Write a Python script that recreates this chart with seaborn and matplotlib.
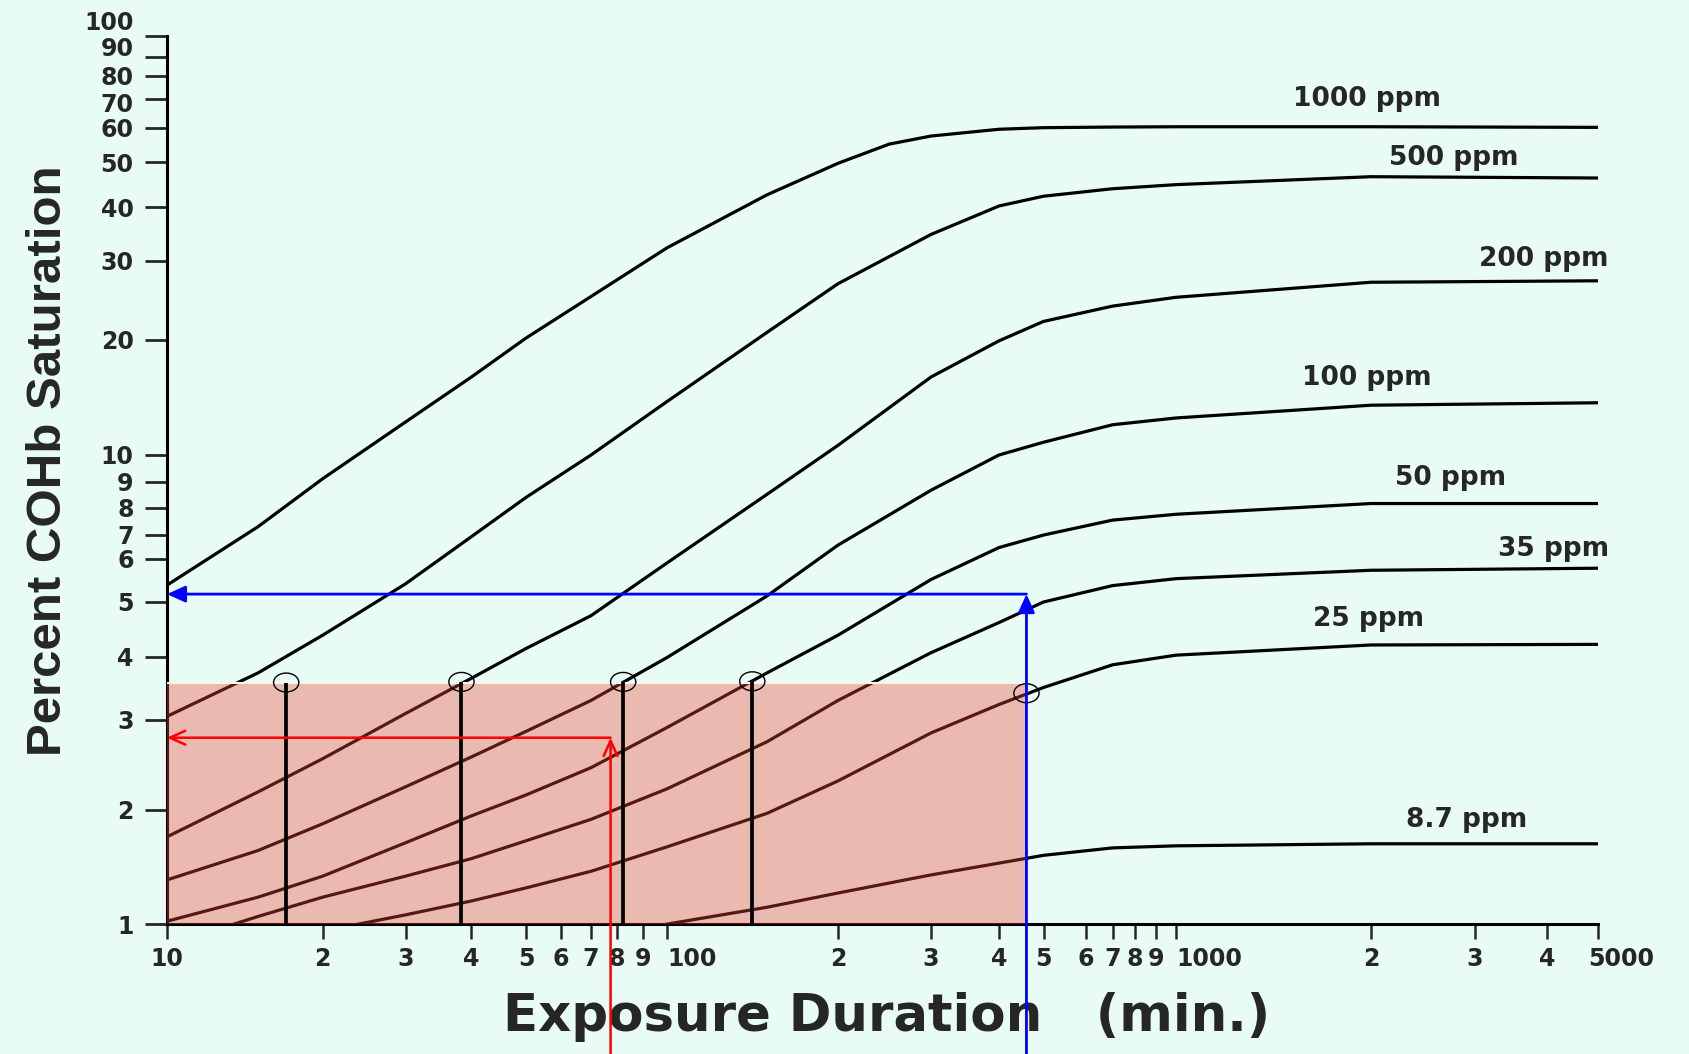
import numpy as np
import pandas as pd
import matplotlib
matplotlib.use('Agg')
import matplotlib.pyplot as plt
import matplotlib.path as mpath
from matplotlib.transforms import Affine2D, ScaledTranslation
from matplotlib.scale import FuncScale
import seaborn as sns

# --- curves: minutes vs percent COHb ---
min_1000 = [10, 15, 20, 30, 40, 50, 70, 100, 150, 200, 250, 300, 400, 500, 700, 1000, 2000, 5000]
cohb_1000 = [5.37, 7.28, 9.11, 12.2, 16.0, 20.2, 25.0, 32.2, 42.6, 49.8, 55.1, 57.5, 59.6, 60.1, 60.3, 60.4, 60.4, 60.2]

min_std = [10, 15, 20, 30, 40, 50, 70, 100, 150, 200, 300, 400, 500, 700, 1000, 2000, 5000]
cohb_500 = [3.05, 3.72, 4.37, 5.40, 6.91, 8.38, 10.0, 13.8, 20.8, 26.7, 34.6, 40.3, 42.3, 43.9, 44.8, 46.6, 46.3]
cohb_200 = [1.70, 2.17, 2.52, 3.09, 3.63, 4.14, 4.73, 5.9, 8.5, 10.6, 16.0, 19.9, 22.0, 23.8, 24.9, 26.9, 27.1]
cohb_100 = [1.31, 1.565, 1.84, 2.22, 2.54, 2.85, 3.28, 3.99, 5.13, 6.55, 8.66, 10.0, 10.8, 12.0, 12.5, 13.5, 13.7]
cohb_50 = [1.02, 1.18, 1.34, 1.64, 1.93, 2.14, 2.42, 2.90, 3.72, 4.37, 5.5, 6.45, 6.98, 7.52, 7.74, 8.15, 8.15]

min_35 = [13.4, 15, 20, 30, 40, 50, 70, 100, 150, 200, 300, 400, 500, 700, 1000, 2000, 5000]
cohb_35 = [1.0, 1.05, 1.18, 1.34, 1.49, 1.66, 1.89, 2.20, 2.72, 3.28, 4.07, 4.6, 5.0, 5.36, 5.52, 5.72, 5.77]

min_25 = [23.6, 30, 40, 50, 70, 100, 150, 200, 300, 400, 500, 700, 1000, 2000, 5000]
cohb_25 = [1.0, 1.06, 1.153, 1.248, 1.38, 1.60, 1.96, 2.28, 2.83, 3.22, 3.48, 3.86, 4.03, 4.2, 4.21]

min_8_7 = [99, 150, 200, 300, 400, 500, 700, 1000, 2000, 5000]
cohb_8_7 = [1.0, 1.11, 1.21, 1.35, 1.45, 1.52, 1.59, 1.61, 1.63, 1.63]

curve_labels = ['1000 ppm', '500 ppm', '200 ppm', '100 ppm', '50 ppm', '35 ppm', '25 ppm', '8.7 ppm']

# marked points where a curve reaches the shaded limit
marker_min = [17.0, 38.3, 82.3, 141.3, 459]
marker_cohb = [3.56, 3.57, 3.57, 3.58, 3.39]

# shaded zone and the two worked examples (arrows)
shade_min_end = 459
shade_cohb_top = 3.56
red_min, red_cohb = 77.4, 2.77
blue_min, blue_cohb = 459, 5.17

# axis ticks
x_ticks = [10, 20, 30, 40, 50, 60, 70, 80, 90, 100, 200, 300, 400, 500, 600, 700,
           800, 900, 1000, 2000, 3000, 4000, 5000]
x_tick_labels = ['10', '2', '3', '4', '5', '6', '7', '8', '9', '100', '2', '3', '4', '5',
                 '6', '7', '8', '9', '1000', '2', '3', '4', '5000']
y_ticks = [1, 2, 3, 4, 5, 6, 7, 8, 9, 10, 20, 30, 40, 50, 60, 70, 80, 90, 100]
y_tick_labels = [str(t) for t in y_ticks]

# the original log paper is hand drawn: tick spacing is uneven, so the
# scale follows where each tick sits on it (pixels from the axis origin)
x_tick_offset = [0, 155.7, 238.5, 304.4, 359, 394, 424, 450, 475.6, 500, 671, 764, 832,
                 876.5, 918.5, 945.6, 967.8, 989, 1009, 1204, 1308, 1380, 1431]
y_tick_offset = [0, 114.5, 204.5, 267.5, 322.5, 365.5, 389.9, 416.9, 442.7, 469.5, 584.5,
                 663.5, 717, 762, 796.5, 825.5, 848.5, 867.5, 888.5]


def paper_scale(ticks, offsets):
    lt = np.log10(ticks)
    off = np.asarray(offsets, float)

    def fwd(v):
        v = np.clip(np.asarray(v, float), 1e-6, None)
        return np.interp(np.log10(v), lt, off)

    def inv(p):
        return 10 ** np.interp(np.asarray(p, float), off, lt)
    return fwd, inv


# long-form table for seaborn
frames = []
for name, xs, ys in zip(curve_labels,
                        [min_1000, min_std, min_std, min_std, min_std, min_35, min_25, min_8_7],
                        [cohb_1000, cohb_500, cohb_200, cohb_100, cohb_50, cohb_35, cohb_25, cohb_8_7]):
    frames.append(pd.DataFrame({'minutes': xs, 'cohb': ys, 'curve': name}))
df = pd.concat(frames, ignore_index=True)

bg = '#e8fcf5'
sns.set_style('white')
plt.rcParams['font.family'] = ['DejaVu Sans']

fig = plt.figure(figsize=(16.9, 10.54), dpi=100, facecolor=bg)
ax = fig.add_axes([0.09882, 0.12287, 0.84675, 0.84298])
ax.set_facecolor(bg)
ax.set_xscale(FuncScale(ax.xaxis, paper_scale(x_ticks, x_tick_offset)))
ax.set_yscale(FuncScale(ax.yaxis, paper_scale(y_ticks, y_tick_offset)))

sns.lineplot(data=df, x='minutes', y='cohb', hue='curve', units='curve', estimator=None,
             palette={c: 'black' for c in curve_labels}, legend=False, lw=2.3, ax=ax, zorder=2)

# shaded zone over the curves
ax.fill_between([10, shade_min_end], 1, shade_cohb_top, color='#f04538', alpha=0.36,
                lw=0, zorder=3)
ax.plot([10, shade_min_end], [shade_cohb_top, shade_cohb_top], color='#fbf4ea', lw=1.5, zorder=3)

# stems and circles
ax.vlines(marker_min[:-1], 1, marker_cohb[:-1], color='black', lw=2.7, zorder=4)
ellipse = mpath.Path.unit_circle().transformed(Affine2D().scale(1.0, 0.75))
ax.scatter(marker_min, marker_cohb, marker=ellipse, s=330, facecolors='none',
           edgecolors='black', linewidths=1.0, zorder=5)

# worked examples
blue_arrow = dict(arrowstyle='-|>,head_length=0.55,head_width=0.25', color='#0000ff',
                  lw=2, shrinkA=0, shrinkB=0, mutation_scale=20)
red_arrow = dict(arrowstyle='->,head_length=0.55,head_width=0.25', color='#ff0000',
                 lw=1.8, shrinkA=0, shrinkB=0, mutation_scale=20)
ax.annotate('', xy=(blue_min, blue_cohb), xytext=(blue_min, -0.16),
            textcoords=('data', 'axes fraction'), arrowprops=blue_arrow, zorder=6)
ax.annotate('', xy=(10, blue_cohb), xytext=(blue_min, blue_cohb), arrowprops=blue_arrow, zorder=6)
ax.annotate('', xy=(red_min, red_cohb), xytext=(red_min, -0.16),
            textcoords=('data', 'axes fraction'), arrowprops=red_arrow, zorder=6)
ax.annotate('', xy=(10, red_cohb), xytext=(red_min, red_cohb), arrowprops=red_arrow, zorder=6)

# curve labels
label_x = [1975, 2762, 3955, 1970, 2727, 4115, 1982, 2908]
label_y = [67.3, 49.5, 29.3, 15.25, 8.88, 6.1, 4.53, 1.80]
for txt, lx, ly in zip(curve_labels, label_x, label_y):
    ax.text(lx, ly, txt, ha='center', va='baseline', fontsize=19, fontweight='bold', zorder=7)

ax.set_xlim(10, 5000)
ax.set_ylim(1, 100)
ax.set_xticks(x_ticks)
ax.set_xticklabels(x_tick_labels)
ax.set_yticks(y_ticks)
ax.set_yticklabels(y_tick_labels)
ax.minorticks_off()
ax.tick_params(axis='y', length=16, width=2, pad=8, labelsize=17, direction='out', left=True)
ax.tick_params(axis='x', length=11, width=1.8, pad=5, labelsize=17, direction='out', bottom=True)
for lbl in ax.get_xticklabels() + ax.get_yticklabels():
    lbl.set_fontweight('bold')

# small nudges matching the printed labels
xl = ax.get_xticklabels()
for i in (9, 18):
    xl[i].set_ha('left')
xl[-1].set_ha('left')
xl[-1].set_transform(xl[-1].get_transform() + ScaledTranslation(-0.1, 0, fig.dpi_scale_trans))
yl = ax.get_yticklabels()
for lbl, dy in zip(yl[-4:], [-0.04, 0.0, 0.10, 0.15]):  # 70, 80, 90, 100 sit crowded at the top
    lbl.set_transform(lbl.get_transform() + ScaledTranslation(0, dy, fig.dpi_scale_trans))

for s in ['top', 'right']:
    ax.spines[s].set_visible(False)
for s in ['left', 'bottom']:
    ax.spines[s].set_color('black')
    ax.spines[s].set_linewidth(2.2)

ax.set_xlabel('Exposure Duration   (min.)', fontsize=37, fontweight='bold')
ax.xaxis.set_label_coords(0.503, -0.076)
ax.set_ylabel('Percent COHb Saturation', fontsize=35.5, fontweight='bold',
              family=['Liberation Sans', 'DejaVu Sans'])
ax.yaxis.set_label_coords(-0.067, 0.5217)

fig.savefig('out.png', dpi=100, facecolor=bg)
